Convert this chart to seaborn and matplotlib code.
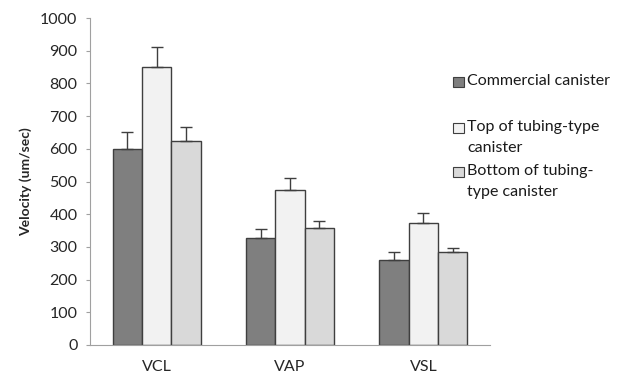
import numpy as np
import pandas as pd
import matplotlib
matplotlib.use("Agg")
import matplotlib.pyplot as plt
from matplotlib.patches import Rectangle
import seaborn as sns

metrics = ["VCL", "VAP", "VSL"]
groups = ["Commercial canister", "Top of tubing-type\ncanister", "Bottom of tubing-\ntype canister"]
commercial = [600, 327, 260]
top_tubing = [850, 474, 372]
bottom_tubing = [625, 357, 283]
commercial_err = [50, 29, 23]
top_tubing_err = [62, 38, 33]
bottom_tubing_err = [42, 23, 15]

colors = ["#7f7f7f", "#f2f2f2", "#d9d9d9"]
edge = "#3f3f3f"

sns.set_theme(style="white")
plt.rcParams["font.family"] = ["Lato", "DejaVu Sans"]

df = pd.DataFrame({
    "metric": metrics * 3,
    "group": [groups[0]] * 3 + [groups[1]] * 3 + [groups[2]] * 3,
    "value": commercial + top_tubing + bottom_tubing,
    "err": commercial_err + top_tubing_err + bottom_tubing_err,
})

W, H = 623, 374
fig = plt.figure(figsize=(W / 100, H / 100), dpi=100)
ax = fig.add_axes([90 / W, 1 - 345 / H, 400 / W, 327 / H])

sns.barplot(data=df, x="metric", y="value", hue="group", hue_order=groups,
            palette=colors, errorbar=None, width=0.66, saturation=1,
            edgecolor=edge, linewidth=1.0, ax=ax, legend=False)

# upper-only error bars at each bar centre
for container, g in zip(ax.containers, groups):
    sub = df[df["group"] == g]
    xs = [p.get_x() + p.get_width() / 2 for p in container.patches]
    ys = [p.get_height() for p in container.patches]
    ax.errorbar(xs, ys, yerr=[np.zeros(len(ys)), sub["err"].values],
                fmt="none", ecolor=edge, elinewidth=1.0, capsize=4, capthick=1.0)

ax.set_ylim(0, 1000)
ax.set_xlim(-0.5, 2.5)
ax.set_yticks(range(0, 1001, 100))
ax.set_xlabel("")
ax.set_ylabel("Velocity (um/sec)", fontsize=10, fontweight="bold", labelpad=6)
ax.tick_params(axis="y", labelsize=11.5, left=True, length=3, color="#a0a0a0", width=0.8, pad=6)
ax.tick_params(axis="x", labelsize=11.5, bottom=False, pad=5)
for s in ["top", "right"]:
    ax.spines[s].set_visible(False)
for s in ["left", "bottom"]:
    ax.spines[s].set_color("#a0a0a0")
    ax.spines[s].set_linewidth(0.8)

# legend: square swatch beside the first line of each label
legend_rows = [82, 128, 172]
for g, c, yrow in zip(groups, colors, legend_rows):
    fig.patches.append(Rectangle((453 / W, 1 - (yrow + 5) / H), 11 / W, 10 / H,
                                 transform=fig.transFigure, facecolor=c,
                                 edgecolor=edge, linewidth=0.8))
    fig.text(467 / W, 1 - (yrow - 8) / H, g, fontsize=11.5, va="top", ha="left",
             linespacing=1.65, color="#1a1a1a")

fig.savefig("out.png", dpi=100)
